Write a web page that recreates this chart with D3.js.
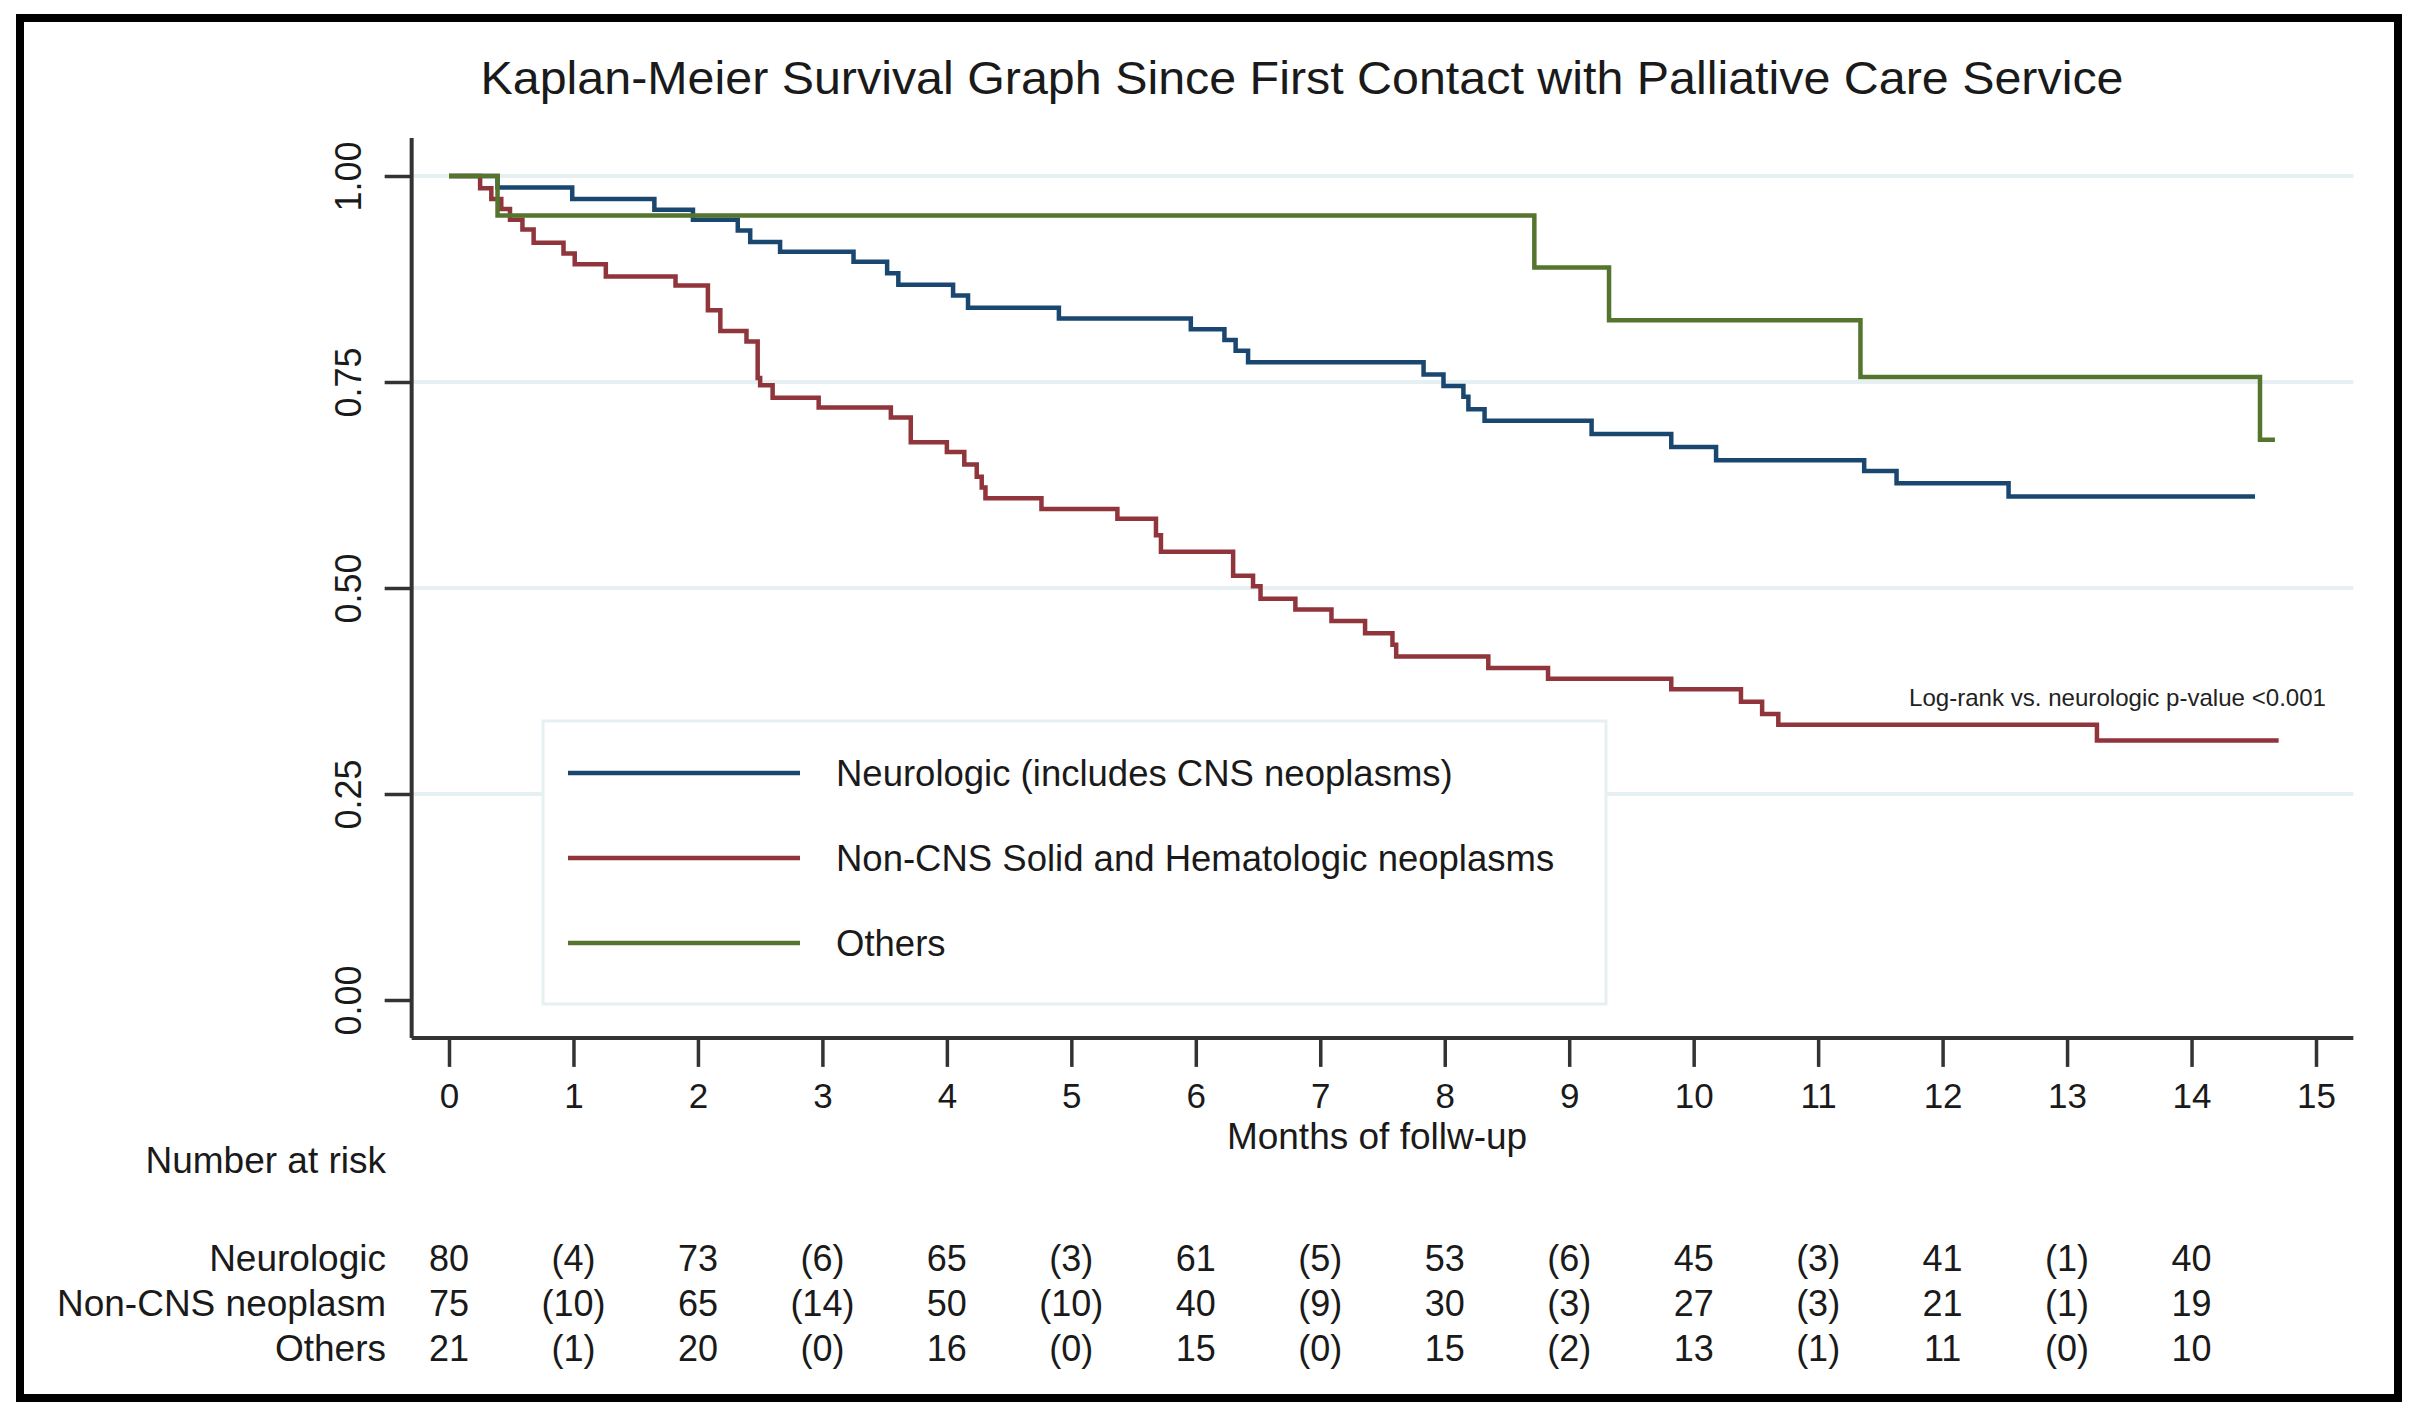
<!DOCTYPE html>
<html>
<head>
<meta charset="utf-8">
<script src="https://cdn.jsdelivr.net/npm/d3@7.9.0/dist/d3.min.js"></script>
<style>
  body { margin: 0; background: #fff; }
  svg { display: block; font-family: "Liberation Sans", Arial, sans-serif; }
</style>
</head>
<body>
<svg id="chart" width="2410" height="1413"></svg>
<script>
// step points: [month, survival] where the curve changes
const neuroSteps = [
  [0, 1], [0.39, 0.986], [0.99, 0.972], [1.65, 0.959], [1.96, 0.947], [2.32, 0.934],
  [2.42, 0.920], [2.66, 0.908], [3.25, 0.896], [3.52, 0.882], [3.61, 0.868], [4.05, 0.855],
  [4.17, 0.840], [4.90, 0.827], [5.96, 0.814], [6.23, 0.801], [6.32, 0.788], [6.42, 0.774],
  [7.83, 0.759], [7.99, 0.745], [8.15, 0.732], [8.19, 0.717], [8.32, 0.703], [9.18, 0.687],
  [9.82, 0.671], [10.18, 0.655], [11.37, 0.642], [11.63, 0.627], [12.53, 0.611], [14.51, 0.611]
];
const nonCnsSteps = [
  [0, 1], [0.25, 0.985], [0.34, 0.972], [0.42, 0.960], [0.49, 0.947], [0.59, 0.935],
  [0.68, 0.919], [0.92, 0.906], [1.01, 0.893], [1.26, 0.878], [1.82, 0.867], [2.08, 0.837],
  [2.18, 0.812], [2.39, 0.799], [2.48, 0.755], [2.50, 0.746], [2.60, 0.731], [2.97, 0.719],
  [3.55, 0.707], [3.71, 0.677], [4.00, 0.665], [4.14, 0.650], [4.24, 0.635], [4.28, 0.622],
  [4.31, 0.609], [4.76, 0.596], [5.37, 0.584], [5.68, 0.564], [5.72, 0.544], [6.30, 0.515],
  [6.46, 0.502], [6.52, 0.487], [6.80, 0.474], [7.09, 0.460], [7.36, 0.445], [7.58, 0.431],
  [7.61, 0.417], [8.35, 0.403], [8.83, 0.390], [9.82, 0.377], [10.38, 0.362], [10.55, 0.347],
  [10.68, 0.334], [13.24, 0.315], [14.70, 0.315]
];
const othersSteps = [
  [0, 1], [0.39, 0.952], [8.72, 0.889], [9.32, 0.825], [11.34, 0.756], [14.55, 0.680], [14.67, 0.680]
];

const seriesNames = ["Neurologic (includes CNS neoplasms)", "Non-CNS Solid and Hematologic neoplasms", "Others"];
const seriesColors = ["#1a476f", "#90353b", "#55752f"];

const xTicks = d3.range(0, 16);
const yTicks = [0, 0.25, 0.5, 0.75, 1];

// number at risk table
const riskLabels = ["Neurologic", "Non-CNS neoplasm", "Others"];
const riskMonths = [0, 2, 4, 6, 8, 10, 12, 14];
const eventMonths = [1, 3, 5, 7, 9, 11, 13];
const neuroAtRisk = [80, 73, 65, 61, 53, 45, 41, 40];
const neuroEvents = [4, 6, 3, 5, 6, 3, 1];
const nonCnsAtRisk = [75, 65, 50, 40, 30, 27, 21, 19];
const nonCnsEvents = [10, 14, 10, 9, 3, 3, 1];
const othersAtRisk = [21, 20, 16, 15, 15, 13, 11, 10];
const othersEvents = [1, 0, 0, 0, 2, 1, 0];

const svg = d3.select("#chart");
const ink = "#1a1a1a";

const x = d3.scaleLinear().domain([0, 15]).range([449, 2316]);
const y = d3.scaleLinear().domain([0, 1]).range([1000, 176]);
const xLo = -0.3, xHi = 15.3, yLo = -0.046, yHi = 1.046;

// outer frame
svg.append("rect")
  .attr("x", 20).attr("y", 18).attr("width", 2378).attr("height", 1380)
  .attr("fill", "none").attr("stroke", "#000").attr("stroke-width", 8);

// title
svg.append("text")
  .attr("x", 1302).attr("y", 94)
  .attr("text-anchor", "middle")
  .attr("font-size", 47).attr("fill", ink)
  .attr("textLength", 1643).attr("lengthAdjust", "spacingAndGlyphs")
  .text("Kaplan-Meier Survival Graph Since First Contact with Palliative Care Service");

// grid lines
svg.append("g").selectAll("line")
  .data(yTicks.filter(d => d > 0))
  .join("line")
  .attr("x1", x(xLo)).attr("x2", x(xHi))
  .attr("y1", d => y(d)).attr("y2", d => y(d))
  .attr("stroke", "#e6f0f2").attr("stroke-width", 4);

// y axis
const yAxis = svg.append("g")
  .attr("transform", `translate(${x(xLo)},0)`)
  .call(d3.axisLeft(y).tickValues(yTicks).tickFormat(d3.format(".2f")).tickSize(27).tickPadding(0));
yAxis.select(".domain").remove();
yAxis.selectAll(".tick line").attr("stroke", "#333").attr("stroke-width", 3.5);
yAxis.selectAll(".tick text")
  .attr("transform", "translate(-63,0) rotate(-90)")
  .attr("x", 0).attr("dy", "0.35em")
  .attr("text-anchor", "middle")
  .attr("font-size", 36).attr("fill", ink);
svg.append("line")
  .attr("x1", x(xLo)).attr("x2", x(xLo))
  .attr("y1", y(yHi)).attr("y2", y(yLo))
  .attr("stroke", "#333").attr("stroke-width", 4);

// x axis
const xAxis = svg.append("g")
  .attr("transform", `translate(0,${y(yLo)})`)
  .call(d3.axisBottom(x).tickValues(xTicks).tickFormat(d3.format("d")).tickSize(29).tickPadding(16));
xAxis.select(".domain").remove();
xAxis.selectAll(".tick line").attr("stroke", "#333").attr("stroke-width", 3.5);
xAxis.selectAll(".tick text").attr("font-size", 35).attr("fill", ink);
svg.append("line")
  .attr("x1", x(xLo)).attr("x2", x(xHi))
  .attr("y1", y(yLo)).attr("y2", y(yLo))
  .attr("stroke", "#333").attr("stroke-width", 4);

svg.append("text")
  .attr("x", 1377).attr("y", 1149)
  .attr("text-anchor", "middle")
  .attr("font-size", 37).attr("fill", ink)
  .text("Months of follw-up");

// survival curves
const line = d3.line()
  .x(d => x(d[0]))
  .y(d => y(d[1]))
  .curve(d3.curveStepAfter);

[neuroSteps, nonCnsSteps, othersSteps].forEach((steps, i) => {
  svg.append("path")
    .attr("d", line(steps))
    .attr("fill", "none")
    .attr("stroke", seriesColors[i])
    .attr("stroke-width", 4.5)
    .attr("stroke-linejoin", "miter");
});

// log-rank note
svg.append("text")
  .attr("x", 2326).attr("y", 706)
  .attr("text-anchor", "end")
  .attr("font-size", 24).attr("fill", "#222")
  .attr("textLength", 417).attr("lengthAdjust", "spacingAndGlyphs")
  .text("Log-rank vs. neurologic p-value <0.001");

// legend
const legend = svg.append("g");
legend.append("rect")
  .attr("x", 543).attr("y", 721).attr("width", 1063).attr("height", 283)
  .attr("fill", "#fff").attr("stroke", "#e6eff1").attr("stroke-width", 3);
seriesNames.forEach((name, i) => {
  const ly = 773 + i * 85;
  legend.append("line")
    .attr("x1", 568).attr("x2", 800).attr("y1", ly).attr("y2", ly)
    .attr("stroke", seriesColors[i]).attr("stroke-width", 4.5);
  legend.append("text")
    .attr("x", 836).attr("y", ly).attr("dy", "0.35em")
    .attr("font-size", 36.5).attr("fill", ink)
    .text(name);
});

// number at risk
svg.append("text")
  .attr("x", 386).attr("y", 1173)
  .attr("text-anchor", "end")
  .attr("font-size", 37).attr("fill", ink)
  .text("Number at risk");

const riskRows = [
  [neuroAtRisk, neuroEvents],
  [nonCnsAtRisk, nonCnsEvents],
  [othersAtRisk, othersEvents]
];
riskRows.forEach(([atRisk, events], r) => {
  const ry = 1271 + r * 45;
  const row = svg.append("g").attr("font-size", 36).attr("fill", ink);
  row.append("text")
    .attr("x", 386).attr("y", ry).attr("text-anchor", "end")
    .attr("font-size", 37)
    .text(riskLabels[r]);
  row.selectAll(".n")
    .data(atRisk)
    .join("text")
    .attr("x", (d, i) => x(riskMonths[i])).attr("y", ry)
    .attr("text-anchor", "middle")
    .text(d => d);
  row.selectAll(".e")
    .data(events)
    .join("text")
    .attr("x", (d, i) => x(eventMonths[i])).attr("y", ry)
    .attr("text-anchor", "middle")
    .text(d => `(${d})`);
});
</script>
</body>
</html>
